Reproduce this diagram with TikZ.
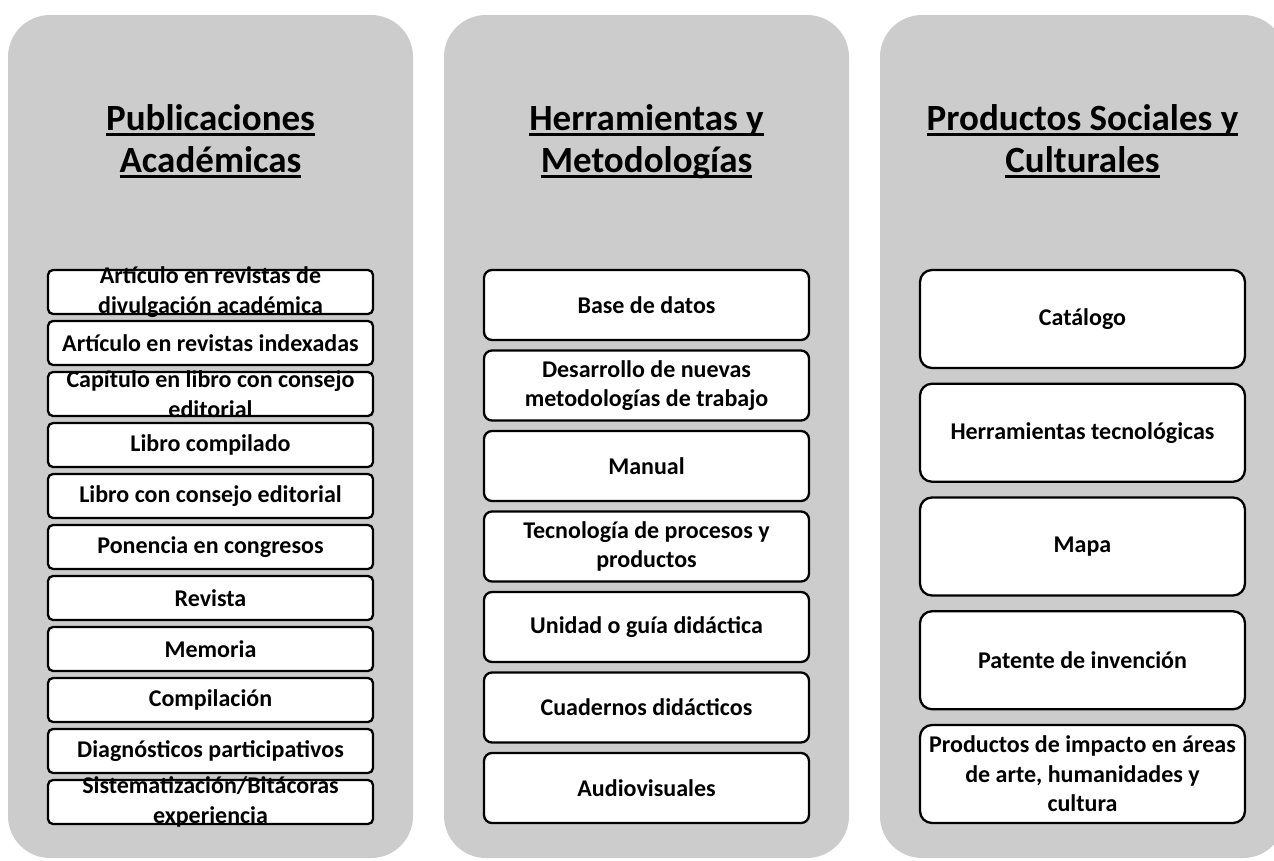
\documentclass[tikz,border=0pt]{standalone}
\usepackage{fontspec}
\setmainfont{Carlito}
\definecolor{panelgray}{HTML}{CCCCCC}
\newlength\ttlwd
\newcommand{\ttl}[1]{\settowidth{\ttlwd}{#1}\rlap{\rule[-5.5pt]{\ttlwd}{2.6pt}}#1}
\tikzset{
  panel/.style={fill=panelgray,rounded corners=42pt},
  coltitle/.style={align=center,inner sep=0pt,font=\bfseries\fontsize{37}{42}\selectfont},
  itembox/.style={draw,fill=white,line width=2.3pt,minimum width=325pt,inner sep=0pt},
  pubbox/.style={itembox,rounded corners=5pt,minimum height=44pt},
  herbox/.style={itembox,rounded corners=8pt,minimum height=70pt},
  socbox/.style={itembox,rounded corners=12pt,minimum height=98pt},
  every label/.style={align=center,inner sep=0pt,font=\bfseries\fontsize{24}{29.5}\selectfont}
}
\begin{document}
\begin{tikzpicture}[x=1pt,y=-1pt]
    \useasboundingbox (0,0) rectangle (1274,860);
    \fill[panel] (8,15) rectangle (413,858);
    \fill[panel] (444,15) rectangle (849,858);
    \fill[panel] (880,15) rectangle (1285,858);

    % titulos
    \node[coltitle,anchor=base] (tpub) at (210.5,172) {\ttl{Publicaciones}\\\ttl{Académicas}};
    \node[coltitle,anchor=base] (ther) at (646.5,172) {\ttl{Herramientas y}\\\ttl{Metodologías}};
    \node[coltitle,anchor=base] (tsoc) at (1082.5,172) {\ttl{Productos Sociales y}\\\ttl{Culturales}};

    % publicaciones
    \node[pubbox,label={center:Artículo en revistas de\\divulgación académica}] (p1) at (210.5,292) {};
    \node[pubbox,label={center:Artículo en revistas indexadas}] (p2) at (210.5,343) {};
    \node[pubbox,label={center:Capítulo en libro con consejo\\editorial}] (p3) at (210.5,394) {};
    \node[pubbox,label={center:Libro compilado}] (p4) at (210.5,445) {};
    \node[pubbox,label={center:Libro con consejo editorial}] (p5) at (210.5,496) {};
    \node[pubbox,label={center:Ponencia en congresos}] (p6) at (210.5,547) {};
    \node[pubbox,label={center:Revista}] (p7) at (210.5,598) {};
    \node[pubbox,label={center:Memoria}] (p8) at (210.5,649) {};
    \node[pubbox,label={center:Compilación}] (p9) at (210.5,700) {};
    \node[pubbox,label={center:Diagnósticos participativos}] (p10) at (210.5,751) {};
    \node[pubbox,label={center:Sistematización/Bitácoras\\experiencia}] (p11) at (210.5,802) {};

    % herramientas
    \node[herbox,label={center:Base de datos}] (h1) at (646.5,305) {};
    \node[herbox,label={center:Desarrollo de nuevas\\metodologías de trabajo}] (h2) at (646.5,385.5) {};
    \node[herbox,label={center:Manual}] (h3) at (646.5,466) {};
    \node[herbox,label={center:Tecnología de procesos y\\productos}] (h4) at (646.5,546.5) {};
    \node[herbox,label={center:Unidad o guía didáctica}] (h5) at (646.5,627) {};
    \node[herbox,label={center:Cuadernos didácticos}] (h6) at (646.5,707.5) {};
    \node[herbox,label={center:Audiovisuales}] (h7) at (646.5,788) {};

    % productos sociales
    \node[socbox,label={center:Catálogo}] (s1) at (1082.5,319) {};
    \node[socbox,label={center:Herramientas tecnológicas}] (s2) at (1082.5,432.75) {};
    \node[socbox,label={center:Mapa}] (s3) at (1082.5,546.5) {};
    \node[socbox,label={center:Patente de invención}] (s4) at (1082.5,660.25) {};
    \node[socbox,label={center:Productos de impacto en áreas\\de arte, humanidades y\\cultura}] (s5) at (1082.5,774) {};
\end{tikzpicture}
\end{document}
